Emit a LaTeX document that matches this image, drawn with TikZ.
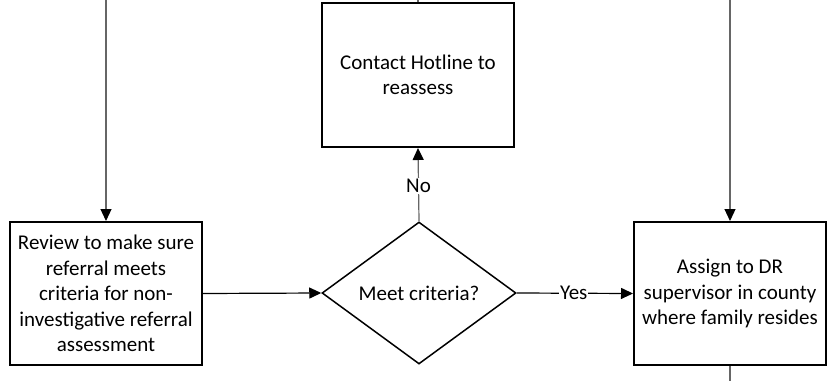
\documentclass[tikz,border=0pt]{standalone}
\usepackage{fontspec}
\setmainfont{Carlito}
\usetikzlibrary{shapes.geometric,arrows.meta}
\tikzset{
  x=1pt,y=1pt,
  procbox/.style={draw=black,line width=2pt,minimum width=192pt,minimum height=143pt,inner sep=1pt,align=center,font=\fontsize{21}{25.5}\selectfont},
  decision/.style={draw=black,line width=1.5pt,diamond,minimum width=194pt,minimum height=142pt,inner sep=0pt,align=center,font=\fontsize{21}{25.5}\selectfont},
  vconn/.style={draw=black!60,line width=1.2pt},
  hconn/.style={draw=black,line width=1.2pt},
  tip/.style={-{Triangle[length=12pt,width=11pt,color=black]}},
  lbl/.style={fill=white,inner sep=1pt,font=\fontsize{21}{22}\selectfont}
}
\begin{document}
\begin{tikzpicture}
\useasboundingbox (0,0) rectangle (832,381);
\node[procbox] (review) at (106,87.5) {Review to make sure\\referral meets\\criteria for non-\\investigative referral\\assessment};
\node[procbox,minimum height=144pt] (hotline) at (418,306) {Contact Hotline to\\reassess};
\node[decision] (meet) at (419,88) {Meet criteria?};
\node[procbox] (assign) at (730,87.5) {Assign to DR\\supervisor in county\\where family resides};
\coordinate (inL) at (106,381);
\coordinate (inT) at (418,381);
\coordinate (inR) at (730,381);
\coordinate (outR) at (730,0);
\draw[vconn,tip] (inL) -- (review.north);
\draw[vconn] (inT) -- (hotline.north);
\draw[vconn,tip] (inR) -- (assign.north);
\draw[vconn] (assign.south) -- (outR);
\draw[hconn,tip] (review.east) -- (meet.west);
\draw[vconn,tip] (meet.north) -- node[lbl,pos=0.48]{No} (hotline.south);
\draw[hconn,tip] (meet.east) -- node[lbl,pos=0.49]{Yes} (assign.west);
\end{tikzpicture}
\end{document}
